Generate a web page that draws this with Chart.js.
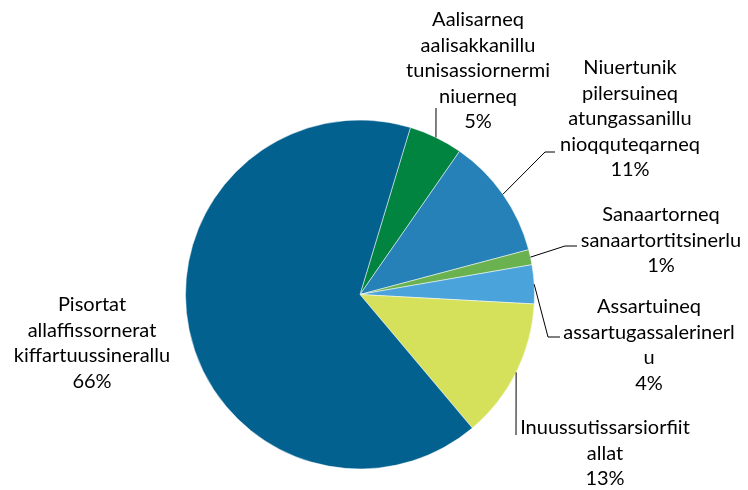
<!DOCTYPE html>
<html>
<head>
<meta charset="utf-8">
<script src="https://cdn.jsdelivr.net/npm/chart.js@4/dist/chart.umd.min.js"></script>
<style>
  html, body { margin: 0; padding: 0; background: #fff; }
  #wrap { width: 748px; height: 490px; }
</style>
</head>
<body>
<div id="wrap"><canvas id="chart" width="748" height="490"></canvas></div>
<script>
const categories = [
  ['Aalisarneq', 'aalisakkanillu', 'tunisassiornermi', 'niuerneq'],
  ['Niuertunik', 'pilersuineq', 'atungassanillu', 'nioqquteqarneq'],
  ['Sanaartorneq', 'sanaartortitsinerlu'],
  ['Assartuineq', 'assartugassalerinerl', 'u'],
  ['Inuussutissarsiorfiit', 'allat'],
  ['Pisortat', 'allaffissornerat', 'kiffartuussinerallu'],
];
const shares = [5.0, 11.2, 1.4, 3.6, 13.0, 65.8];
const percentLabels = ['5%', '11%', '1%', '4%', '13%', '66%'];
const colors = ['#00843f', '#2581b8', '#6ab150', '#4aa3db', '#d6e15b', '#03618f'];

// where Excel put each data label: centre x, centre y of first line, leader path
const labelLayout = [
  { x: 478, y: 20, leader: [[436, 108]] },
  { x: 630, y: 68, leader: [[545, 152], [555, 152]] },
  { x: 661, y: 215, leader: [[565, 246], [577, 246]] },
  { x: 649, y: 307, leader: [[548, 337], [560, 337]] },
  { x: 605, y: 428, leader: [[516, 435]] },
  { x: 92, y: 305, leader: null },
];

const LINE_H = 25.5;
const FONT = '20px Lato, "Open Sans", sans-serif';

const labelPlugin = {
  id: 'outsideLabels',
  afterDraw(chart) {
    const { ctx } = chart;
    const arcs = chart.getDatasetMeta(0).data;
    ctx.save();
    arcs.forEach((arc, i) => {
      const lay = labelLayout[i];
      const { x, y, startAngle, endAngle, outerRadius } = arc.getProps(['x', 'y', 'startAngle', 'endAngle', 'outerRadius'], true);
      const mid = (startAngle + endAngle) / 2;
      if (lay.leader) {
        ctx.beginPath();
        ctx.strokeStyle = '#000';
        ctx.lineWidth = 1;
        ctx.moveTo(x + Math.cos(mid) * outerRadius, y + Math.sin(mid) * outerRadius);
        lay.leader.forEach(([px, py]) => ctx.lineTo(px, py));
        ctx.stroke();
      }
      const lines = [...categories[i], percentLabels[i]];
      ctx.font = FONT;
      ctx.fillStyle = '#000';
      ctx.textAlign = 'center';
      ctx.textBaseline = 'middle';
      lines.forEach((t, k) => ctx.fillText(t, lay.x, lay.y + k * LINE_H));
    });
    ctx.restore();
  },
};

new Chart(document.getElementById('chart'), {
  type: 'pie',
  data: {
    labels: categories.map((c) => c.join(' ')),
    datasets: [{
      data: shares,
      backgroundColor: colors,
      borderColor: '#ffffff',
      borderWidth: 0.5,
    }],
  },
  options: {
    responsive: false,
    animation: false,
    rotation: 16.8,
    layout: {
      padding: { left: 185.25, right: 213.25, top: 119.75, bottom: 20.75 },
    },
    plugins: {
      legend: { display: false },
      tooltip: { enabled: false },
    },
  },
  plugins: [labelPlugin],
});
</script>
</body>
</html>
